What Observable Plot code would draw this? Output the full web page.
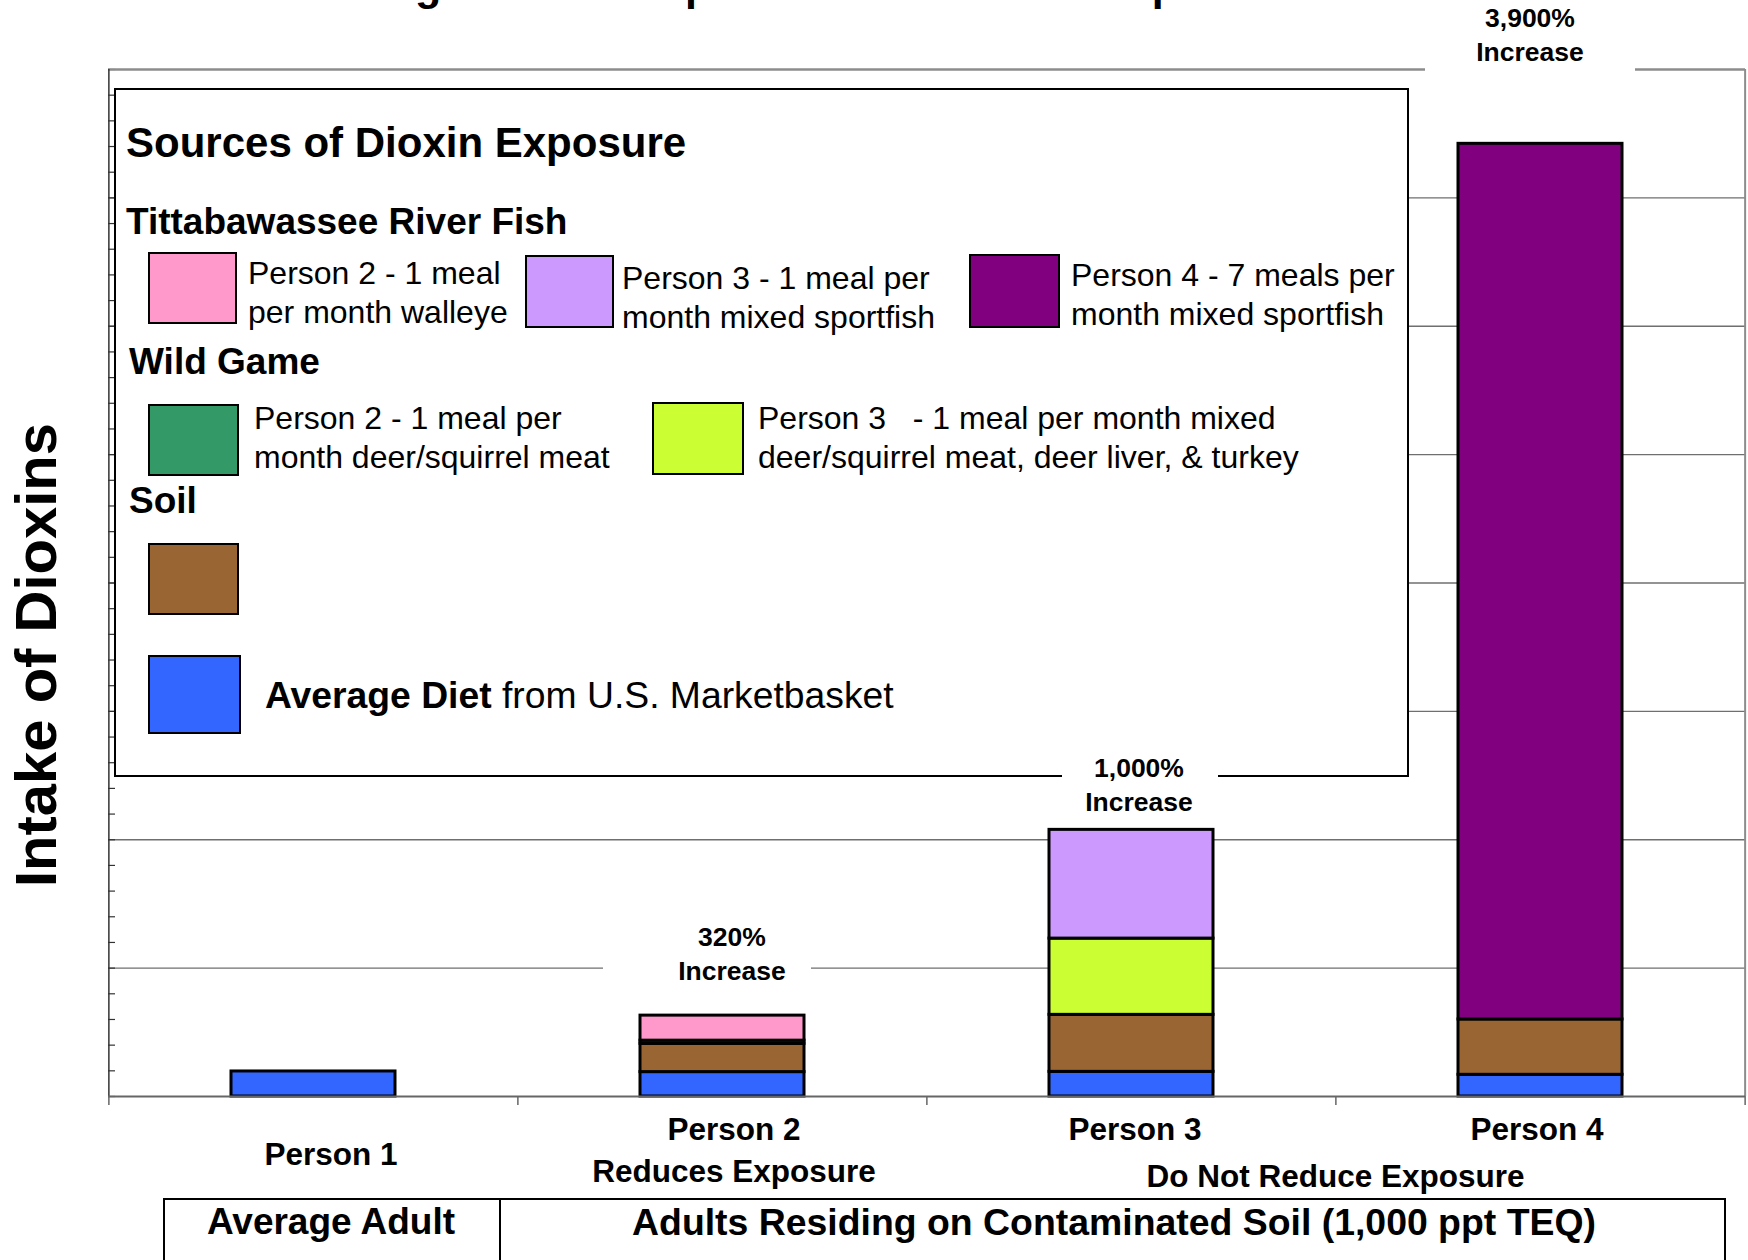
<!DOCTYPE html>
<html><head><meta charset="utf-8">
<script src="https://cdn.jsdelivr.net/npm/d3@7"></script>
<script src="https://cdn.jsdelivr.net/npm/@observablehq/plot@0.6"></script>
<style>
body{margin:0;background:#fff;}
#wrap{position:relative;width:1748px;height:1260px;overflow:hidden;font-family:"Liberation Sans",Arial,sans-serif;color:#000;background:#fff;}
#wrap svg.plot{position:absolute;left:0;top:0;}
.abs{position:absolute;white-space:pre;}
.b{font-weight:bold;}
.sw{position:absolute;box-sizing:border-box;border:2px solid #000;}
</style></head><body><div id="wrap"></div>
<script>
// ---------- data ----------
const persons = ["Person 1", "Person 2", "Person 3", "Person 4"];
const sources = ["Average Diet", "Soil", "Wild Game P2", "Wild Game P3", "Fish P2", "Fish P3", "Fish P4"];
const dietValues   = [1.95, 1.90, 1.92, 1.69];
const soilValues   = [0, 2.20, 4.44, 4.31];
const gameP2Values = [0, 0.25, 0, 0];
const gameP3Values = [0, 0, 5.94, 0];
const fishP2Values = [0, 1.95, 0, 0];
const fishP3Values = [0, 0, 8.47, 0];
const fishP4Values = [0, 0, 0, 68.21];
const sourceColors = ["#3366ff", "#996633", "#339966", "#ccff33", "#ff99cc", "#cc99ff", "#800080"];
const increaseLabels = ["", "320%", "1,000%", "3,900%"];
const groupLabels = ["", "Reduces Exposure", "Do Not Reduce Exposure"];
const yMajorTicks = [0, 10, 20, 30, 40, 50, 60, 70, 80];
const yMinorTicks = d3.range(0, 81, 2);

const seriesValues = [dietValues, soilValues, gameP2Values, gameP3Values, fishP2Values, fishP3Values, fishP4Values];
const rows = persons.flatMap((p, i) => sources.map((s, j) => ({person: p, source: s, value: seriesValues[j][i]}))).filter(d => d.value > 0);
const totals = persons.map((p, i) => seriesValues.reduce((a, s) => a + s[i], 0));

// ---------- layout ----------
const W = 1748, H = 1260, ML = 108, MR = 3, MT = 69, MB = 164;
const step = (W - ML - MR) / persons.length;

const plot = Plot.plot({
  width: W, height: H,
  marginLeft: ML, marginRight: MR, marginTop: MT, marginBottom: MB,
  x: {domain: persons, paddingInner: 0.6, paddingOuter: 0.3, axis: null},
  y: {domain: [0, 80], axis: null},
  color: {domain: sources, range: sourceColors},
  style: {background: "transparent", fontFamily: "Liberation Sans, Arial, sans-serif", overflow: "visible"},
  marks: [
    Plot.ruleY(yMajorTicks.slice(1, -1), {stroke: "#6f6f6f", strokeWidth: 1.3}),
    Plot.ruleY(yMinorTicks, {insetRight: W - ML - MR - 7, stroke: "#333", strokeWidth: 1.2}),
    Plot.ruleY([80], {stroke: "#8c8c8c", strokeWidth: 2.5}),
    Plot.ruleX([persons[persons.length - 1]], {dx: step / 2, stroke: "#8c8c8c", strokeWidth: 2}),
    Plot.ruleX([persons[0]], {dx: -step / 2, stroke: "#333", strokeWidth: 1.5}),
    Plot.barY(rows, {x: "person", y: "value", fill: "source", order: sources, stroke: "#000", strokeWidth: 3}),
    Plot.ruleY([0], {stroke: "#666", strokeWidth: 2}),
    Plot.ruleX(persons, {dx: -step / 2, y1: 0, y2: 0, insetBottom: -9, stroke: "#666", strokeWidth: 1.5}),
    Plot.ruleX([persons[persons.length - 1]], {dx: step / 2, y1: 0, y2: 0, insetBottom: -9, stroke: "#666", strokeWidth: 1.5})
  ]
});
plot.classList.add("plot");
const wrap = document.getElementById("wrap");
wrap.appendChild(plot);

const xs = plot.scale("x"), ys = plot.scale("y"), cs = plot.scale("color");
const cx = p => xs.apply(p) + xs.bandwidth / 2;

function add(html, css, cls) {
  const d = document.createElement("div");
  d.className = "abs " + (cls || "");
  d.innerHTML = html;
  Object.assign(d.style, css);
  wrap.appendChild(d);
  return d;
}
function centered(html, x, yc, size, extra) {
  const lh = size * 1.2;
  return add(html, Object.assign({left: x + "px", top: (yc - lh / 2) + "px", fontSize: size + "px", lineHeight: lh + "px", transform: "translateX(-50%)", textAlign: "center"}, extra || {}), "b");
}

// ---------- title (cropped at top in the reference) ----------
add("Figure 3: Examples of Adult Dioxin Exposure", {left: "836px", top: "-40px", fontSize: "43px", lineHeight: "51.6px", transform: "translateX(-50%)"}, "b");

// ---------- y axis title ----------
add("Intake of Dioxins", {left: "36px", top: "655px", fontSize: "58px", lineHeight: "64px", transform: "translate(-50%,-50%) rotate(-90deg)"}, "b");

// ---------- legend ----------
add("", {left: "114px", top: "88px", width: "1295px", height: "689px", boxSizing: "border-box", border: "2px solid #000", background: "#fff"});
add("Sources of Dioxin Exposure", {left: "126px", top: "118px", fontSize: "42px", lineHeight: "50px"}, "b");
add("Tittabawassee River Fish", {left: "126px", top: "200px", fontSize: "37px", lineHeight: "44px"}, "b");
add("Wild Game", {left: "129px", top: "340px", fontSize: "37px", lineHeight: "44px"}, "b");
add("Soil", {left: "129px", top: "479px", fontSize: "37px", lineHeight: "44px"}, "b");

const swatches = [
  {s: "Fish P2", x: 148, y: 252, w: 89, h: 72, tx: 248, ty: 253.5, text: "Person 2 - 1 meal\nper month walleye"},
  {s: "Fish P3", x: 525, y: 255, w: 89, h: 73, tx: 622, ty: 258.5, text: "Person 3 - 1 meal per\nmonth mixed sportfish"},
  {s: "Fish P4", x: 969, y: 254, w: 91, h: 74, tx: 1071, ty: 255.5, text: "Person 4 - 7 meals per\nmonth mixed sportfish"},
  {s: "Wild Game P2", x: 148, y: 404, w: 91, h: 72, tx: 254, ty: 398.5, text: "Person 2 - 1 meal per\nmonth deer/squirrel meat"},
  {s: "Wild Game P3", x: 652, y: 402, w: 92, h: 73, tx: 758, ty: 398.5, text: "Person 3   - 1 meal per month mixed\ndeer/squirrel meat, deer liver, &amp; turkey"},
  {s: "Soil", x: 148, y: 543, w: 91, h: 72},
  {s: "Average Diet", x: 148, y: 655, w: 93, h: 79}
];
for (const sw of swatches) {
  const d = document.createElement("div");
  d.className = "sw";
  Object.assign(d.style, {left: sw.x + "px", top: sw.y + "px", width: sw.w + "px", height: sw.h + "px", background: cs.apply(sw.s)});
  wrap.appendChild(d);
  if (sw.text) add(sw.text, {left: sw.tx + "px", top: sw.ty + "px", fontSize: "32px", lineHeight: "39px"});
}
add('<b>Average Diet</b> from U.S. Marketbasket', {left: "265px", top: "673px", fontSize: "37.3px", lineHeight: "44px"});

// ---------- increase annotations ----------
const annStyle = {
  "Person 2": {dy: 44, w: 208, dx: 10, boxDx: -15},
  "Person 3": {dy: 27, w: 156, dx: 8, boxDx: 9},
  "Person 4": {dy: 91, w: 210, dx: -10, boxDx: -10}
};
persons.forEach((p, i) => {
  if (!increaseLabels[i]) return;
  const st = annStyle[p];
  const lh = 34;
  const yInc = ys.apply(totals[i]) - st.dy; // centre of the "Increase" line
  const top = yInc - lh * 1.5;
  add("", {left: (cx(p) + st.boxDx - st.w / 2) + "px", top: top + "px", width: st.w + "px", height: (lh * 2 + 6) + "px", background: "#fff"});
  add(increaseLabels[i] + "\nIncrease", {
    left: (cx(p) + st.dx) + "px", top: top + "px",
    fontSize: "26.5px", lineHeight: lh + "px", textAlign: "center",
    transform: "translateX(-50%)"
  }, "b");
});

// ---------- x labels ----------
const labelDx = {"Person 1": 18, "Person 2": 12, "Person 3": 4, "Person 4": -3};
persons.forEach((p, i) => {
  centered(p, cx(p) + labelDx[p], i === 0 ? 1155 : 1130, 31.5);
});
centered(groupLabels[1], cx(persons[1]) + 12, 1172, 31.5);
centered(groupLabels[2], (cx(persons[2]) + cx(persons[3])) / 2, 1177, 31.5);

// ---------- bottom table ----------
add("", {left: "163px", top: "1198px", width: "1563px", height: "120px", boxSizing: "border-box", border: "2px solid #000"});
add("", {left: "499px", top: "1198px", width: "2px", height: "120px", background: "#000"});
centered("Average Adult", 331, 1222, 37);
centered("Adults Residing on Contaminated Soil (1,000 ppt TEQ)", 1114, 1222, 37.4);
</script></body></html>
